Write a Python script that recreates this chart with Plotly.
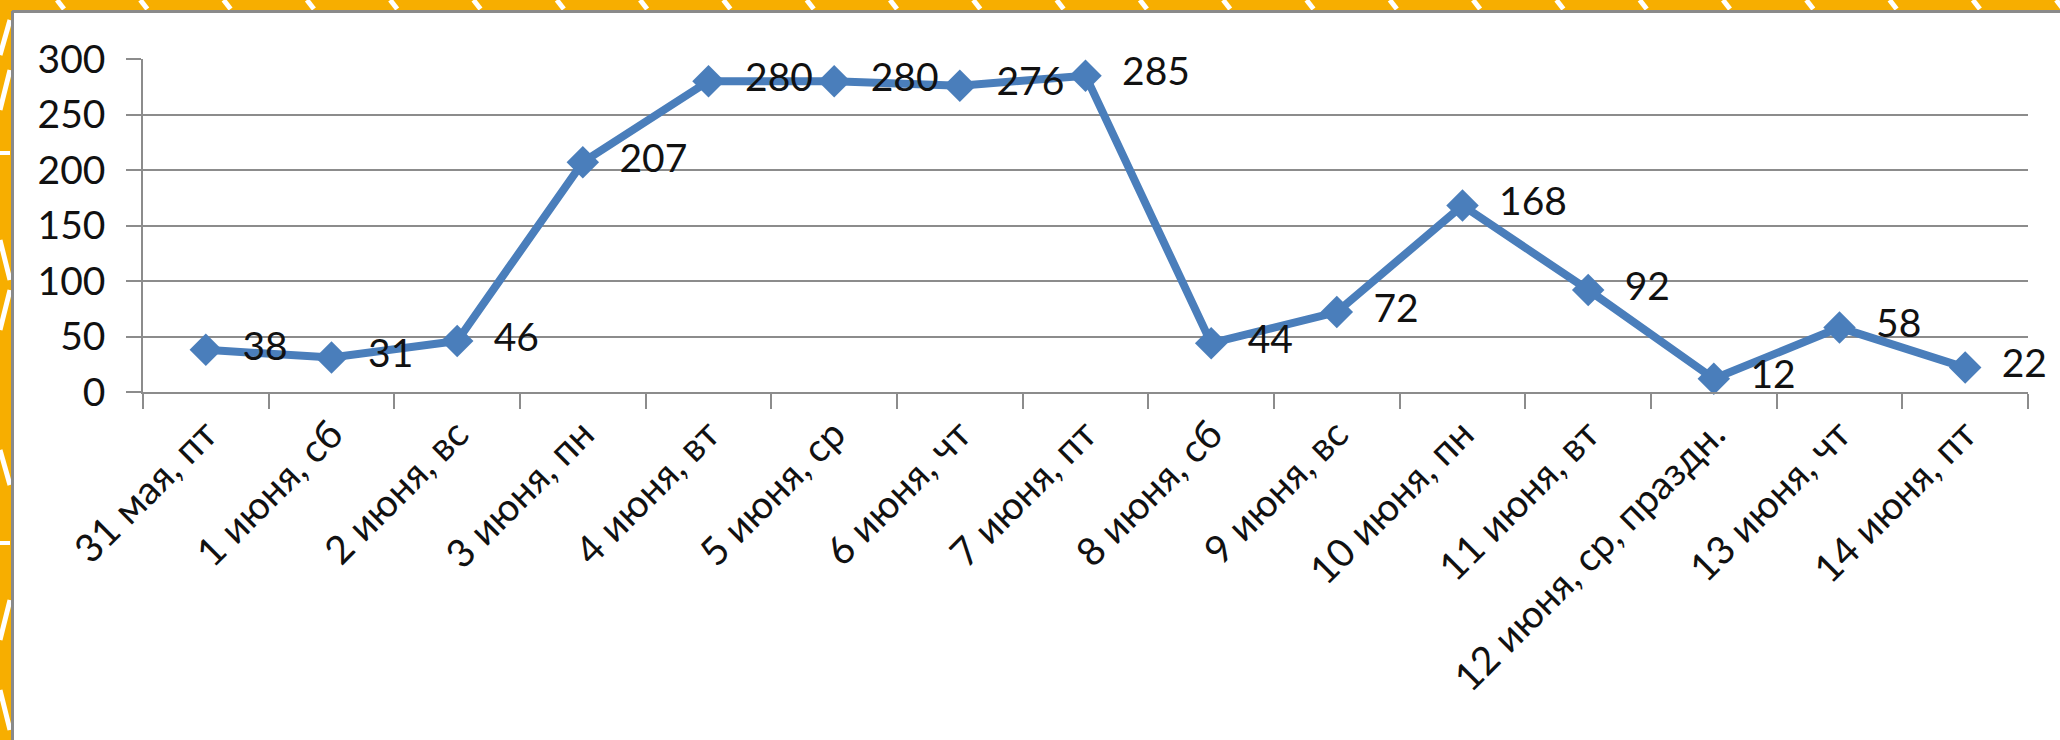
import plotly.graph_objects as go

categories = ["31 мая, пт", "1 июня, сб", "2 июня, вс", "3 июня, пн", "4 июня, вт",
              "5 июня, ср", "6 июня, чт", "7 июня, пт", "8 июня, сб", "9 июня, вс",
              "10 июня, пн", "11 июня, вт", "12 июня, ср, праздн.", "13 июня, чт", "14 июня, пт"]
values = [38, 31, 46, 207, 280, 280, 276, 285, 44, 72, 168, 92, 12, 58, 22]
y_ticks = [0, 50, 100, 150, 200, 250, 300]

W, H = 2060, 740
L, R, T, B = 143, 32, 59, 348
PW = W - L - R
PH = H - T - B

def px(x):
    return (x - L) / PW

def py(y):
    return (H - B - y) / PH

FONT = "Lato, 'Open Sans', sans-serif"
BLUE = "#4A7EBB"
ORANGE = "#F7AE00"
GRID = "#8C8C8C"

fig = go.Figure()
fig.add_trace(go.Scatter(
    x=categories, y=values, mode="lines+markers+text",
    line=dict(color=BLUE, width=8),
    marker=dict(symbol="diamond", size=25, color=BLUE),
    text=[str(v) for v in values],
    texttemplate="  %{text}",
    textposition="middle right",
    textfont=dict(family=FONT, size=39, color="#111111"),
    cliponaxis=False,
    showlegend=False,
))

shapes = []
# orange slide frame strips (top and left)
shapes.append(dict(type="rect", xref="paper", yref="paper", layer="below",
                   x0=px(0), x1=px(W), y0=py(0), y1=py(11),
                   fillcolor=ORANGE, line=dict(width=0)))
shapes.append(dict(type="rect", xref="paper", yref="paper", layer="below",
                   x0=px(0), x1=px(12), y0=py(0), y1=py(H),
                   fillcolor=ORANGE, line=dict(width=0)))
# top strip white dashes
for i in range(25):
    x = 57 + 83.3 * i
    shapes.append(dict(type="line", xref="paper", yref="paper", layer="below",
                       x0=px(x), x1=px(x + 7), y0=py(0), y1=py(9),
                       line=dict(color="white", width=5)))
# left strip white marks
for y in [153, 543]:
    shapes.append(dict(type="line", xref="paper", yref="paper", layer="below",
                       x0=px(0), x1=px(10), y0=py(y), y1=py(y),
                       line=dict(color="white", width=4)))
for (x0, y0, x1, y1) in [(0, 55, 10, 20), (0, 110, 10, 70), (0, 240, 10, 280),
                         (0, 330, 10, 290), (0, 450, 10, 485), (0, 640, 10, 600),
                         (0, 690, 10, 730)]:
    shapes.append(dict(type="line", xref="paper", yref="paper", layer="below",
                       x0=px(x0), x1=px(x1), y0=py(y0), y1=py(y1),
                       line=dict(color="white", width=5)))
# gray panel edge
shapes.append(dict(type="line", xref="paper", yref="paper", layer="below",
                   x0=px(12), x1=px(W), y0=py(11.5), y1=py(11.5),
                   line=dict(color="#8A8A8A", width=3)))
shapes.append(dict(type="line", xref="paper", yref="paper", layer="below",
                   x0=px(12.5), x1=px(12.5), y0=py(11), y1=py(H),
                   line=dict(color="#8A8A8A", width=3)))

fig.update_layout(
    width=W, height=H,
    margin=dict(l=L, r=R, t=T, b=B, pad=0),
    paper_bgcolor="white",
    plot_bgcolor="white",
    font=dict(family=FONT, size=39, color="#111111"),
    shapes=shapes,
    xaxis=dict(
        type="category",
        tickangle=-45,
        tickson="boundaries",
        ticks="outside", ticklen=15, tickwidth=1.5, tickcolor=GRID,
        showline=True, linecolor=GRID, linewidth=1.5,
        showgrid=False,
        tickfont=dict(family=FONT, size=39, color="#111111"),
        ticklabelstandoff=2,
        range=[-0.5, len(categories) - 0.5],
    ),
    yaxis=dict(
        range=[0, 300],
        tickvals=y_ticks,
        ticktext=[str(v) for v in y_ticks],
        ticks="outside", ticklen=15, tickwidth=1.5, tickcolor=GRID,
        showline=True, linecolor=GRID, linewidth=1.5,
        showgrid=True, gridcolor=GRID, gridwidth=1.5,
        zeroline=False,
        tickfont=dict(family=FONT, size=39, color="#111111"),
        ticklabelstandoff=13,
    ),
)

fig.write_html("out.html", config={"displayModeBar": False},
               post_script="document.documentElement.style.background='white';document.body.style.margin='0';document.body.style.overflow='hidden';")
